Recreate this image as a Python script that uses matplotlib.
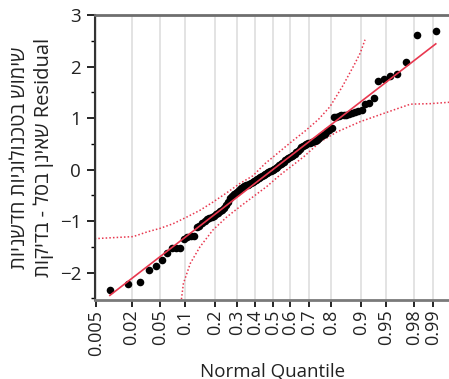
import matplotlib
matplotlib.use('Agg')
import matplotlib.pyplot as plt
from matplotlib.ticker import MultipleLocator
from statistics import NormalDist

plt.rcParams['font.family'] = ['Open Sans', 'DejaVu Sans']

# sorted residuals (111 rows)
residuals = [
    -2.34, -2.21, -2.18, -1.95, -1.87, -1.76, -1.62, -1.52, -1.52, -1.52,
    -1.34, -1.30, -1.29, -1.28, -1.12, -1.09, -1.04, -0.99, -0.96, -0.94,
    -0.92, -0.90, -0.87, -0.84, -0.81, -0.78, -0.74, -0.69, -0.62, -0.55,
    -0.51, -0.48, -0.46, -0.43, -0.39, -0.36, -0.33, -0.31, -0.30, -0.29,
    -0.28, -0.26, -0.24, -0.22, -0.20, -0.18, -0.17, -0.15, -0.13, -0.11,
    -0.09, -0.07, -0.05, -0.03, -0.02, 0.00, 0.02, 0.04, 0.06, 0.08,
    0.10, 0.12, 0.15, 0.18, 0.20, 0.22, 0.24, 0.26, 0.28, 0.31,
    0.34, 0.37, 0.40, 0.43, 0.45, 0.47, 0.49, 0.51, 0.52, 0.54,
    0.55, 0.56, 0.58, 0.62, 0.66, 0.68, 0.70, 0.74, 0.77, 0.80,
    1.02, 1.03, 1.04, 1.05, 1.06, 1.06, 1.08, 1.09, 1.11, 1.13,
    1.16, 1.27, 1.30, 1.38, 1.72, 1.76, 1.81, 1.85, 2.09, 2.61,
    2.69,
]

prob_ticks = [0.005, 0.02, 0.05, 0.1, 0.2, 0.3, 0.4, 0.5, 0.6, 0.7, 0.8, 0.9, 0.95, 0.98, 0.99]
prob_labels = ['0.005', '0.02', '0.05', '0.1', '0.2', '0.3', '0.4', '0.5', '0.6', '0.7',
               '0.8', '0.9', '0.95', '0.98', '0.99']

# fitted line, residual value at the first and last point
fit_y = [-2.44, 2.44]

# confidence bands (normal quantile, residual)
upper_q = [-2.59, -2.32, -2.03, -1.83, -1.64, -1.45, -1.25, -1.06, -0.87, -0.67, -0.48,
           -0.29, -0.11, 0.0, 0.18, 0.28, 0.47, 0.66, 0.83, 1.01, 1.17, 1.27, 1.34]
upper_y = [-1.34, -1.32, -1.30, -1.21, -1.14, -1.05, -0.92, -0.79, -0.63, -0.45, -0.27,
           -0.12, 0.12, 0.24, 0.44, 0.55, 0.75, 0.97, 1.22, 1.61, 2.00, 2.26, 2.52]
lower_q = [-1.34, -1.33, -1.30, -1.20, -1.06, -0.87, -0.67, -0.48, -0.29, -0.09, 0.10,
           0.45, 0.69, 0.93, 1.27, 1.61, 2.00, 2.29, 2.60]
lower_y = [-2.80, -2.53, -2.21, -1.82, -1.50, -1.17, -0.92, -0.72, -0.53, -0.33, -0.11,
           0.25, 0.54, 0.73, 0.93, 1.09, 1.27, 1.28, 1.31]

ylabel_lines = ['שימוש בטכנולוגיות חדשניות', 'Residual שאינן בסל - בדיקות']
xlabel = 'Normal Quantile'


def visual(s):
    # matplotlib lays glyphs left to right, so put the Hebrew in display order
    words = s.split(' ')
    return ' '.join(w if w.isascii() else w[::-1] for w in reversed(words))


nd = NormalDist()
n = len(residuals)
qx = [nd.inv_cdf((i + 1) / (n + 1)) for i in range(n)]

RED = '#E8384F'
fig = plt.figure(figsize=(4.49, 3.79), dpi=100)
ax = fig.add_axes([95 / 449, 1 - 300 / 379, 356 / 449, 285 / 379])

tick_q = [nd.inv_cdf(p) for p in prob_ticks]
for q in tick_q:
    ax.axvline(q, color='#e0e0e0', lw=1.3, zorder=0)

ax.plot(upper_q, upper_y, color=RED, lw=1.1, ls=(0, (1.0, 1.4)), zorder=2)
ax.plot(lower_q, lower_y, color=RED, lw=1.1, ls=(0, (1.0, 1.4)), zorder=2)
ax.scatter(qx, residuals, s=30, color='black', zorder=3, linewidths=0)
ax.plot([qx[0], qx[-1]], fit_y, color=RED, lw=1.2, zorder=4)

ax.set_xlim(-2.585, 2.59)
ax.set_ylim(-2.53, 3)
ax.set_xticks(tick_q)
ax.set_xticklabels(prob_labels, rotation=90, fontsize=13, color='#222222')
ax.yaxis.set_major_locator(MultipleLocator(1))
ax.yaxis.set_minor_locator(MultipleLocator(0.5))
ax.tick_params(axis='y', labelsize=13.5, labelcolor='#222222', length=6, width=1.2, pad=4)
ax.tick_params(axis='y', which='minor', length=3, width=1)
ax.tick_params(axis='x', length=5, width=1.2, pad=2)

ax.spines['top'].set_color('#6e6e6e')
ax.spines['top'].set_linewidth(2)
ax.spines['bottom'].set_color('#7a7a7a')
ax.spines['bottom'].set_linewidth(2)
ax.spines['left'].set_color('#333333')
ax.spines['left'].set_linewidth(1.5)
ax.spines['right'].set_visible(False)

ax.set_xlabel(xlabel, fontsize=13.5, color='#222222', labelpad=5)
ax.set_ylabel('\n'.join(visual(s) for s in ylabel_lines), fontsize=14.5,
              color='#222222', labelpad=4, linespacing=1.25)

fig.savefig('out.png', dpi=100)
